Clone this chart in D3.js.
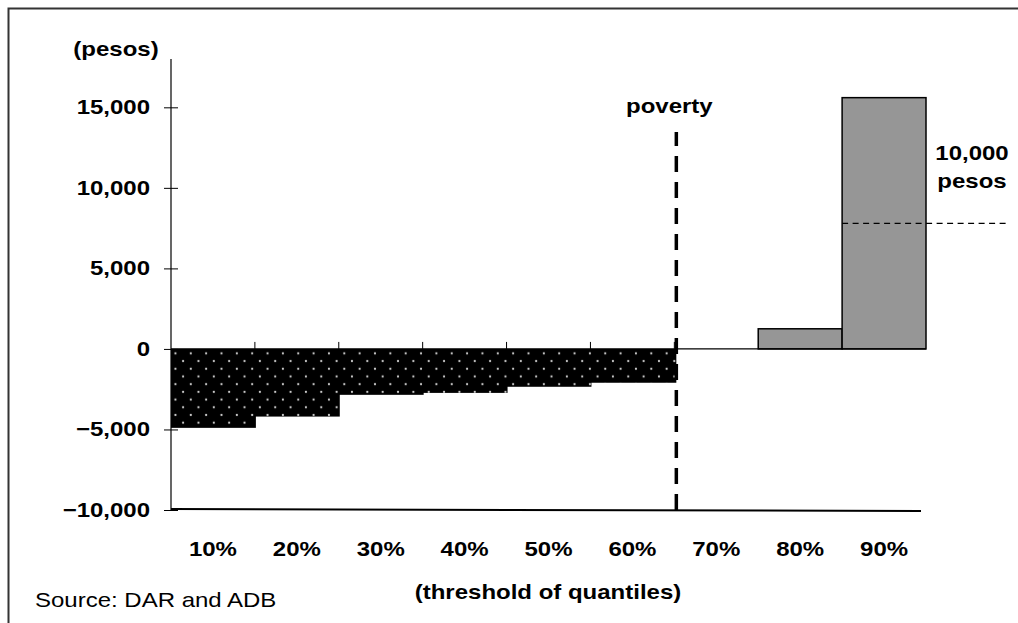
<!DOCTYPE html>
<html>
<head>
<meta charset="utf-8">
<script src="https://cdn.jsdelivr.net/npm/d3@7"></script>
<style>
  body { margin: 0; background: #fff; }
  svg { display: block; font-family: "Liberation Sans", Arial, sans-serif; }
</style>
</head>
<body>
<svg class="chart" width="1018" height="623"></svg>
<script>
// data
const quantiles = ["10%", "20%", "30%", "40%", "50%", "60%", "70%", "80%", "90%"];
const change = [-4900, -4200, -2850, -2730, -2350, -2100, 0, 1250, 15600];
const yTicks = [-10000, -5000, 0, 5000, 10000, 15000];
const refLevel = 7800; // the "10,000 pesos" guide line

let svg = d3.select(".chart"),
    margin = {top: 59, right: 92, bottom: 113, left: 171},
    width = 1018 - margin.left - margin.right,
    height = 623 - margin.top - margin.bottom,
    stretch = "scale(1.2,1)";

let x = d3.scaleBand().domain(quantiles).range([0, width]).padding(0),
    y = d3.scaleLinear().domain([-10000, 18000]).range([height, 0]);

// frame
svg.append("rect")
  .attr("x", 8.5).attr("y", 8.5)
  .attr("width", 1100).attr("height", 700)
  .attr("fill", "none").attr("stroke", "#333").attr("stroke-width", 2);

// dotted fill for the losses
let defs = svg.append("defs");
let pat = defs.append("pattern")
  .attr("id", "dots")
  .attr("patternUnits", "userSpaceOnUse")
  .attr("x", 173.3).attr("y", 356)
  .attr("width", 15.35).attr("height", 15.4);
pat.append("rect").attr("x", -1).attr("y", -1).attr("width", 17).attr("height", 17).attr("fill", "#000");
[[0, 0], [15.35, 0], [0, 15.4], [15.35, 15.4], [7.67, 7.7]].forEach(p => {
  pat.append("circle").attr("cx", p[0]).attr("cy", p[1]).attr("r", 1.1).attr("fill", "#d0d0d0");
});

let g = svg.append("g").attr("transform", "translate(" + margin.left + "," + margin.top + ")");

function label(sel, px, py, txt, bold) {
  return sel.append("text")
    .attr("transform", "translate(" + px + "," + py + ") " + stretch)
    .attr("text-anchor", "middle")
    .attr("font-size", 20)
    .attr("font-weight", bold ? "bold" : "normal")
    .text(txt);
}

// y axis
let yAxis = d3.axisLeft(y).tickValues(yTicks).tickSize(0).tickPadding(17.5)
  .tickFormat(d3.format(","));
g.append("g")
  .attr("class", "axis axis--y")
  .call(yAxis)
  .call(a => {
    a.select(".domain").remove();
    a.selectAll(".tick text")
      .attr("font-size", 20).attr("font-weight", "bold").attr("fill", "#000")
      .attr("font-family", "Liberation Sans, Arial, sans-serif")
      .attr("transform", stretch);
    a.selectAll(".tick").append("line")
      .attr("x1", -7).attr("x2", 7).attr("stroke", "#000");
  });
g.append("line")
  .attr("x1", 0).attr("x2", 0)
  .attr("y1", 0).attr("y2", y(-10000))
  .attr("stroke", "#000").attr("stroke-width", 1.2);

// bars
let data = quantiles.map((q, i) => ({q: q, v: change[i]}));
g.selectAll("rect.bar")
  .data(data.filter(d => d.v !== 0))
  .enter().append("rect")
  .attr("class", "bar")
  .attr("x", d => x(d.q))
  .attr("width", d => d.v < 0 ? x.bandwidth() + (d.q === "60%" ? 2 : 1) : x.bandwidth())
  .attr("y", d => y(Math.max(0, d.v)))
  .attr("height", d => Math.abs(y(d.v) - y(0)))
  .attr("fill", d => d.v < 0 ? "url(#dots)" : "#969696")
  .attr("stroke", d => d.v < 0 ? "none" : "#000")
  .attr("stroke-width", 1.5);

// zero line with small boundary ticks
g.append("line")
  .attr("x1", 0).attr("x2", width)
  .attr("y1", y(0)).attr("y2", y(0))
  .attr("stroke", "#000").attr("stroke-width", 1.2);
g.selectAll("line.btick")
  .data(quantiles.slice(1, 7))
  .enter().append("line")
  .attr("class", "btick")
  .attr("x1", d => x(d)).attr("x2", d => x(d))
  .attr("y1", y(0) - 7).attr("y2", y(0))
  .attr("stroke", "#000");

// bottom baseline
g.append("line")
  .attr("x1", 0).attr("x2", width - 5)
  .attr("y1", y(-10000) - 1).attr("y2", y(-10000) + 1)
  .attr("stroke", "#000").attr("stroke-width", 2);

// x labels
let xAxis = d3.axisBottom(x).tickSize(0).tickPadding(32);
g.append("g")
  .attr("class", "axis axis--x")
  .attr("transform", "translate(0," + y(-10000) + ")")
  .call(xAxis)
  .call(a => {
    a.select(".domain").remove();
    a.selectAll(".tick text")
      .attr("font-size", 20).attr("font-weight", "bold").attr("fill", "#000")
      .attr("font-family", "Liberation Sans, Arial, sans-serif")
      .attr("transform", stretch);
  });

// poverty line
let povX = x("70%") + 2;
g.append("line")
  .attr("x1", povX).attr("x2", povX)
  .attr("y1", y(-10000)).attr("y2", 73)
  .attr("stroke", "#000").attr("stroke-width", 3.5)
  .attr("stroke-dasharray", "16,10");
label(g, povX - 7, 54, "poverty", true);

// 10,000 pesos guide
g.append("line")
  .attr("x1", x("90%")).attr("x2", 1006 - margin.left)
  .attr("y1", y(refLevel)).attr("y2", y(refLevel))
  .attr("stroke", "#000").attr("stroke-width", 1.2)
  .attr("stroke-dasharray", "6,4.5");
label(g, 972 - margin.left, 101, "10,000", true);
label(g, 972 - margin.left, 129, "pesos", true);

// titles
label(svg, 116, 56, "(pesos)", true);
label(svg, 548, 599, "(threshold of quantiles)", true);
label(svg, 35, 607, "Source: DAR and ADB", false).attr("text-anchor", "start");
</script>
</body>
</html>
